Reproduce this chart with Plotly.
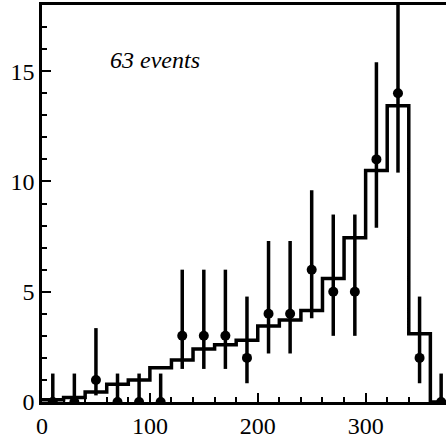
import plotly.graph_objects as go

# Data points (bin centres, counts, asymmetric errors)
x_pts = [10, 30, 50, 70, 90, 110, 130, 150, 170, 190, 210, 230, 250, 270, 290, 310, 330, 350, 370]
y_pts = [0, 0, 1, 0, 0, 0, 3, 3, 3, 2, 4, 4, 6, 5, 5, 11, 14, 2, 0]
y_upper = [1.29, 1.29, 3.35, 1.29, 1.29, 1.29, 6.0, 6.0, 6.0, 4.78, 7.3, 7.3, 9.6, 8.5, 8.5, 15.4, 19.0, 4.78, 1.29]
y_lower = [0, 0, 0.3, 0, 0, 0, 1.5, 1.5, 1.5, 0.85, 2.2, 2.2, 3.8, 3.0, 3.0, 7.9, 10.4, 0.85, 0]

# Expected histogram (bin edges and contents)
hist_edges = [0, 20, 40, 60, 80, 100, 120, 140, 160, 180, 200, 220, 240, 260, 280, 300, 320, 340, 360, 380]
hist_vals = [0.1, 0.2, 0.45, 0.8, 1.0, 1.55, 1.9, 2.4, 2.6, 2.8, 3.45, 3.72, 4.15, 5.6, 7.45, 10.5, 13.43, 3.09, 0.0]

x_ticks = [0, 100, 200, 300]
y_ticks = [0, 5, 10, 15]

err_plus = [u - y for u, y in zip(y_upper, y_pts)]
err_minus = [y - l if y > 0 else 0 for l, y in zip(y_lower, y_pts)]

fig = go.Figure()

fig.add_trace(go.Scatter(
    x=hist_edges,
    y=hist_vals + [hist_vals[-1]],
    mode="lines",
    line=dict(shape="hv", color="black", width=3.5),
    showlegend=False,
    hoverinfo="skip",
))

fig.add_trace(go.Scatter(
    x=x_pts, y=y_pts,
    mode="markers",
    marker=dict(color="black", size=10),
    error_y=dict(type="data", symmetric=False, array=err_plus, arrayminus=err_minus,
                 color="black", thickness=3.5, width=0),
    showlegend=False,
))

font_family = "Liberation Serif"

fig.add_annotation(
    x=105, y=15.5, xref="x", yref="y",
    text="<i>63 events</i>", showarrow=False,
    font=dict(family=font_family, size=24, color="black"),
    xanchor="center", yanchor="middle",
)

fig.update_xaxes(
    range=[0, 374.5], showgrid=False, zeroline=False,
    showline=True, linecolor="black", linewidth=2.5, mirror=True,
    ticks="inside", ticklen=9, tickwidth=2, tickcolor="black",
    tickvals=x_ticks, ticktext=[str(v) for v in x_ticks],
    minor=dict(ticks="inside", dtick=20, tick0=0, ticklen=5, tickwidth=2, tickcolor="black"),
    tickfont=dict(family=font_family, size=24, color="black"),
)
fig.update_yaxes(
    range=[0, 18], showgrid=False, zeroline=False,
    showline=True, linecolor="black", linewidth=2.5,
    ticks="inside", ticklen=9, tickwidth=2, tickcolor="black",
    tickvals=y_ticks, ticktext=[str(v) for v in y_ticks],
    minor=dict(ticks="inside", dtick=1, tick0=0, ticklen=5, tickwidth=2, tickcolor="black"),
    tickfont=dict(family=font_family, size=24, color="black"),
)

fig.update_layout(
    width=446, height=443,
    margin=dict(l=42, r=0, t=5, b=41),
    paper_bgcolor="white", plot_bgcolor="white",
    font=dict(family=font_family),
)

fig.write_html("out.html")
